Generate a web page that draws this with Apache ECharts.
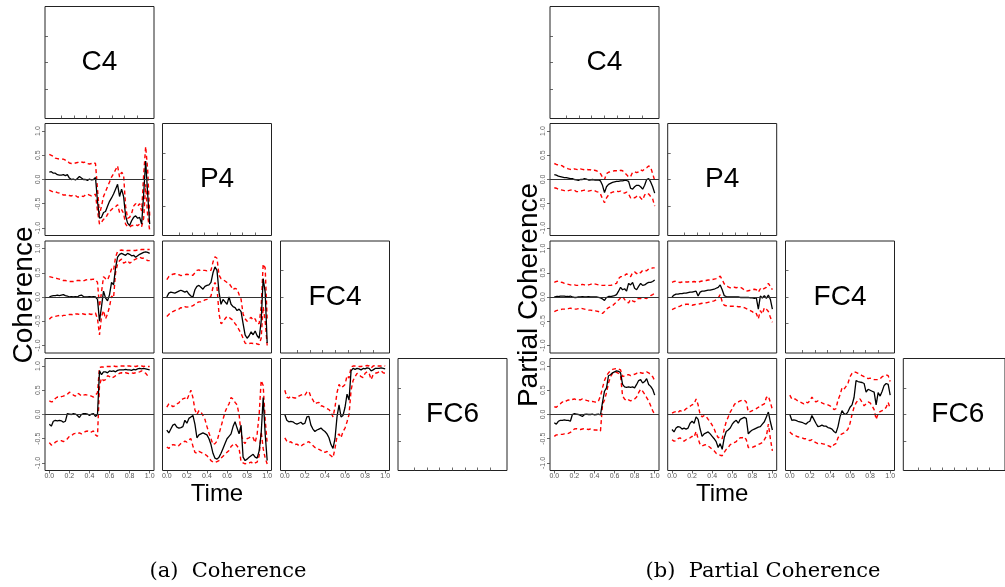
<!DOCTYPE html>
<html><head><meta charset="utf-8">
<script src="https://cdn.jsdelivr.net/npm/echarts@6/dist/echarts.min.js"></script>
<style>html,body{margin:0;padding:0;background:#fff;}#c{width:1005px;height:587px;}</style>
</head><body><div id="c"></div>
<script>
const CHANNELS = ['C4','P4','FC4','FC6'];
const TIME = [0.00,0.02,0.04,0.06,0.08,0.10,0.12,0.14,0.16,0.18,0.20,0.22,0.24,0.26,0.28,0.30,0.32,0.34,0.36,0.38,0.40,0.42,0.44,0.46,0.48,0.50,0.52,0.54,0.56,0.58,0.60,0.62,0.64,0.66,0.68,0.70,0.72,0.74,0.76,0.78,0.80,0.82,0.84,0.86,0.88,0.90,0.92,0.94,0.96,0.98,1.00];
const TIME_TICKS = [0.0,0.2,0.4,0.6,0.8,1.0];
const VALUE_TICKS = [-1.0,-0.5,0.0,0.5,1.0];
const PANEL_TITLES = ['(a)  Coherence','(b)  Partial Coherence'];
const Y_TITLES = ['Coherence','Partial Coherence'];
const X_TITLE = 'Time';

// ---- Coherence (left) ----
const cohP4C4Mean = [0.15,0.16,0.13,0.13,0.10,0.09,0.09,0.10,0.08,0.10,0.03,0.00,0.01,-0.01,0.02,0.06,0.03,0.00,0.00,-0.02,0.01,-0.01,0.00,0.04,-0.45,-0.80,-0.78,-0.68,-0.66,-0.55,-0.45,-0.38,-0.30,-0.20,-0.10,-0.35,-0.20,-0.35,-0.75,-0.90,-0.95,-0.85,-0.78,-0.75,-0.80,-0.78,-0.92,-0.30,0.38,-0.30,-0.92];
const cohP4C4Up = [0.52,0.50,0.48,0.44,0.43,0.42,0.42,0.42,0.40,0.38,0.34,0.33,0.33,0.34,0.35,0.37,0.36,0.35,0.36,0.33,0.32,0.33,0.35,0.33,-0.20,-0.72,-0.55,-0.35,-0.25,-0.15,-0.05,0.05,0.12,0.20,0.28,0.05,0.15,0.10,-0.55,-0.80,-0.78,-0.70,-0.55,-0.50,-0.55,-0.50,-0.65,0.10,0.68,0.20,-0.75];
const cohP4C4Lo = [-0.22,-0.24,-0.26,-0.25,-0.27,-0.28,-0.30,-0.32,-0.32,-0.31,-0.33,-0.34,-0.32,-0.33,-0.36,-0.36,-0.34,-0.35,-0.32,-0.30,-0.32,-0.34,-0.33,-0.30,-0.65,-0.92,-0.88,-0.82,-0.80,-0.72,-0.66,-0.62,-0.58,-0.56,-0.52,-0.68,-0.62,-0.70,-0.92,-0.97,-0.98,-0.95,-0.95,-0.93,-0.95,-0.92,-0.97,-0.80,-0.10,-0.75,-1.05];

const cohFC4C4Mean = [0.00,0.02,0.03,0.03,0.04,0.03,0.04,0.05,0.03,0.02,0.00,0.01,0.00,0.01,0.00,0.03,0.04,0.01,0.00,0.00,0.01,0.00,0.01,0.00,-0.05,-0.50,-0.20,0.12,-0.02,-0.08,0.05,0.30,0.25,0.60,0.82,0.88,0.90,0.88,0.86,0.90,0.88,0.85,0.86,0.82,0.85,0.88,0.90,0.92,0.93,0.92,0.90];
const cohFC4C4Up = [0.42,0.41,0.40,0.39,0.38,0.37,0.36,0.34,0.34,0.33,0.32,0.32,0.32,0.33,0.34,0.34,0.33,0.33,0.35,0.36,0.36,0.36,0.37,0.36,0.30,-0.20,0.10,0.42,0.38,0.35,0.45,0.58,0.55,0.82,0.94,0.96,0.97,0.96,0.95,0.96,0.96,0.96,0.96,0.96,0.97,0.97,0.98,0.98,0.98,0.98,0.98];
const cohFC4C4Lo = [-0.46,-0.42,-0.40,-0.40,-0.39,-0.38,-0.40,-0.38,-0.38,-0.37,-0.36,-0.36,-0.37,-0.35,-0.35,-0.36,-0.34,-0.35,-0.36,-0.34,-0.35,-0.36,-0.34,-0.33,-0.45,-0.78,-0.40,-0.28,-0.45,-0.35,-0.20,0.02,-0.02,0.50,0.68,0.75,0.78,0.70,0.72,0.75,0.70,0.72,0.76,0.78,0.80,0.82,0.80,0.80,0.78,0.75,0.75];

const cohFC6C4Mean = [-0.20,-0.24,-0.14,-0.12,-0.13,-0.12,-0.13,-0.16,-0.14,0.02,0.01,0.00,0.02,0.01,-0.02,-0.06,0.00,0.02,0.02,0.01,-0.02,0.01,0.02,-0.04,0.00,0.90,0.82,0.88,0.88,0.86,0.90,0.89,0.90,0.88,0.91,0.92,0.92,0.92,0.93,0.92,0.92,0.91,0.93,0.92,0.94,0.95,0.94,0.95,0.94,0.93,0.92];
const cohFC6C4Up = [0.28,0.26,0.27,0.33,0.36,0.35,0.37,0.38,0.40,0.42,0.46,0.44,0.40,0.38,0.44,0.42,0.38,0.40,0.41,0.40,0.39,0.38,0.36,0.40,0.45,0.97,0.98,0.98,0.99,0.99,0.99,0.99,1.00,0.99,0.99,1.00,1.00,1.00,0.99,1.00,1.00,0.99,1.00,0.99,1.00,1.00,1.00,0.99,1.00,0.99,0.99];
const cohFC6C4Lo = [-0.58,-0.63,-0.62,-0.57,-0.55,-0.55,-0.54,-0.56,-0.54,-0.50,-0.45,-0.44,-0.40,-0.39,-0.40,-0.38,-0.40,-0.38,-0.35,-0.34,-0.37,-0.36,-0.34,-0.42,-0.45,0.60,0.75,0.70,0.72,0.80,0.78,0.75,0.77,0.80,0.82,0.85,0.86,0.85,0.86,0.85,0.84,0.86,0.85,0.86,0.87,0.88,0.90,0.88,0.85,0.80,0.78];

const cohFC4P4Mean = [0.00,0.08,0.10,0.09,0.08,0.10,0.12,0.14,0.12,0.10,0.12,0.06,0.02,0.00,0.15,0.22,0.24,0.20,0.16,0.22,0.24,0.25,0.30,0.50,0.62,0.55,0.10,-0.15,-0.05,-0.10,-0.15,0.00,-0.15,-0.20,-0.22,-0.28,-0.25,-0.30,-0.55,-0.78,-0.85,-0.80,-0.72,-0.78,-0.70,-0.80,-0.85,-0.50,0.38,0.10,-0.95];
const cohFC4P4Up = [0.36,0.42,0.45,0.47,0.48,0.46,0.46,0.44,0.45,0.46,0.47,0.46,0.45,0.45,0.50,0.55,0.56,0.54,0.55,0.55,0.54,0.55,0.55,0.72,0.83,0.80,0.45,0.38,0.36,0.33,0.30,0.28,0.22,0.15,0.18,0.16,0.05,-0.05,-0.35,-0.45,-0.50,-0.45,-0.42,-0.48,-0.45,-0.55,-0.55,-0.20,0.68,0.60,-0.48];
const cohFC4P4Lo = [-0.40,-0.36,-0.32,-0.30,-0.28,-0.26,-0.25,-0.22,-0.23,-0.20,-0.21,-0.20,-0.20,-0.18,-0.15,-0.12,-0.10,-0.10,-0.08,-0.06,-0.05,-0.03,0.02,0.20,0.30,0.20,-0.35,-0.55,-0.52,-0.45,-0.40,-0.42,-0.45,-0.48,-0.55,-0.60,-0.68,-0.75,-0.85,-0.95,-0.97,-0.96,-0.95,-0.96,-0.95,-0.97,-0.98,-0.85,-0.20,-0.50,-1.00];

const cohFC6P4Mean = [-0.32,-0.38,-0.30,-0.22,-0.20,-0.26,-0.28,-0.27,-0.25,-0.12,-0.18,-0.08,-0.05,-0.02,-0.20,-0.48,-0.42,-0.40,-0.38,-0.40,-0.42,-0.50,-0.62,-0.80,-0.90,-0.92,-0.88,-0.80,-0.70,-0.60,-0.50,-0.45,-0.40,-0.25,-0.15,-0.28,-0.40,-0.22,-0.88,-0.95,-0.92,-0.88,-0.85,-0.82,-0.88,-0.90,-0.75,-0.40,0.35,-0.40,-0.95];
const cohFC6P4Up = [0.15,0.22,0.20,0.16,0.18,0.22,0.24,0.30,0.32,0.34,0.30,0.40,0.50,0.35,0.10,0.00,0.08,0.05,-0.02,-0.10,-0.25,-0.38,-0.50,-0.62,-0.60,-0.55,-0.40,-0.25,-0.10,0.05,0.15,0.22,0.35,0.32,0.25,0.20,0.00,-0.40,-0.55,-0.60,-0.50,-0.48,-0.45,-0.48,-0.58,-0.40,0.00,0.70,0.60,-0.10,-0.60];
const cohFC6P4Lo = [-0.67,-0.70,-0.65,-0.62,-0.63,-0.66,-0.64,-0.60,-0.58,-0.55,-0.57,-0.52,-0.50,-0.65,-0.78,-0.80,-0.76,-0.78,-0.80,-0.82,-0.85,-0.90,-0.95,-0.98,-0.99,-0.97,-0.95,-0.90,-0.86,-0.82,-0.78,-0.74,-0.66,-0.62,-0.60,-0.65,-0.70,-0.98,-1.00,-1.02,-1.00,-1.00,-0.98,-1.02,-1.00,-0.98,-0.85,-0.35,-0.70,-0.90,-1.02];

const cohFC6FC4Mean = [0.00,-0.12,-0.15,-0.14,-0.15,-0.18,-0.20,-0.18,-0.16,-0.20,-0.18,-0.05,-0.04,-0.22,-0.30,-0.35,-0.32,-0.30,-0.28,-0.32,-0.35,-0.40,-0.48,-0.62,-0.70,-0.50,-0.05,0.20,-0.05,-0.02,0.15,0.42,0.30,0.90,0.95,0.93,0.95,0.94,0.92,0.95,0.94,0.96,0.95,0.90,0.92,0.95,0.95,0.95,0.96,0.95,0.94];
const cohFC6FC4Up = [0.50,0.36,0.34,0.38,0.35,0.34,0.34,0.38,0.40,0.42,0.40,0.46,0.48,0.36,0.30,0.22,0.24,0.25,0.18,0.17,0.14,0.12,0.10,0.05,-0.05,0.15,0.45,0.62,0.55,0.58,0.62,0.80,0.75,0.98,1.00,1.00,1.00,0.99,0.99,1.00,1.00,1.01,1.00,0.96,1.00,1.01,1.00,1.00,1.00,1.01,1.00];
const cohFC6FC4Lo = [-0.48,-0.55,-0.58,-0.56,-0.60,-0.62,-0.61,-0.64,-0.66,-0.62,-0.60,-0.58,-0.56,-0.60,-0.64,-0.68,-0.70,-0.72,-0.74,-0.78,-0.78,-0.76,-0.82,-0.85,-0.89,-0.70,-0.45,-0.40,-0.48,-0.35,-0.28,-0.15,0.00,0.50,0.70,0.78,0.85,0.82,0.78,0.76,0.85,0.88,0.85,0.72,0.82,0.85,0.86,0.88,0.90,0.86,0.85];

// ---- Partial coherence (right) ----
const pcohP4C4Mean = [0.10,0.09,0.07,0.06,0.05,0.04,0.04,0.03,0.02,0.02,0.00,-0.01,-0.02,0.00,0.00,0.02,0.01,-0.01,-0.01,0.00,-0.01,-0.01,-0.01,-0.03,-0.12,-0.27,-0.15,-0.10,-0.08,-0.06,-0.05,-0.04,-0.04,-0.03,-0.03,-0.02,-0.02,-0.04,-0.18,-0.20,-0.15,-0.12,-0.12,-0.15,-0.20,-0.12,0.00,0.02,-0.05,-0.15,-0.28];
const pcohP4C4Up = [0.33,0.31,0.30,0.30,0.28,0.25,0.24,0.22,0.21,0.20,0.22,0.21,0.20,0.22,0.21,0.20,0.21,0.20,0.20,0.18,0.19,0.18,0.16,0.12,0.05,0.00,0.12,0.15,0.16,0.17,0.18,0.18,0.17,0.19,0.18,0.14,0.10,0.05,0.06,0.15,0.16,0.14,0.16,0.20,0.18,0.22,0.24,0.28,0.25,0.12,-0.02];
const pcohP4C4Lo = [-0.17,-0.18,-0.20,-0.21,-0.22,-0.23,-0.24,-0.23,-0.22,-0.21,-0.22,-0.25,-0.25,-0.24,-0.23,-0.22,-0.23,-0.24,-0.23,-0.22,-0.23,-0.25,-0.26,-0.30,-0.40,-0.48,-0.38,-0.32,-0.28,-0.26,-0.25,-0.24,-0.25,-0.24,-0.27,-0.28,-0.26,-0.30,-0.38,-0.36,-0.38,-0.35,-0.33,-0.38,-0.42,-0.32,-0.28,-0.30,-0.35,-0.40,-0.55];

const pcohFC4C4Mean = [0.00,0.01,0.01,0.02,0.02,0.02,0.01,0.01,0.02,0.00,-0.01,-0.01,0.00,0.00,0.01,0.00,0.00,0.01,0.00,0.00,0.00,0.00,-0.01,-0.02,-0.04,-0.07,-0.01,0.01,0.01,0.02,0.03,0.05,0.12,0.20,0.15,0.17,0.12,0.28,0.25,0.30,0.18,0.15,0.22,0.28,0.24,0.25,0.28,0.30,0.30,0.32,0.35];
const pcohFC4C4Up = [0.30,0.32,0.33,0.31,0.30,0.28,0.27,0.26,0.25,0.24,0.25,0.24,0.24,0.25,0.26,0.25,0.24,0.25,0.26,0.28,0.27,0.26,0.25,0.24,0.24,0.24,0.25,0.24,0.24,0.25,0.27,0.28,0.38,0.42,0.42,0.44,0.48,0.45,0.42,0.50,0.52,0.48,0.52,0.50,0.55,0.55,0.54,0.58,0.58,0.60,0.60];
const pcohFC4C4Lo = [-0.30,-0.28,-0.27,-0.26,-0.25,-0.25,-0.24,-0.24,-0.23,-0.24,-0.25,-0.25,-0.24,-0.23,-0.24,-0.25,-0.26,-0.27,-0.27,-0.28,-0.28,-0.29,-0.30,-0.32,-0.34,-0.30,-0.25,-0.22,-0.20,-0.18,-0.14,-0.10,-0.06,-0.02,0.01,-0.05,-0.10,-0.12,-0.05,-0.08,-0.10,-0.05,-0.03,-0.03,-0.02,-0.02,-0.03,0.00,0.03,0.05,0.08];

const pcohFC6C4Mean = [-0.17,-0.20,-0.14,-0.12,-0.12,-0.11,-0.12,-0.12,-0.14,0.00,0.02,0.01,0.00,-0.02,-0.04,0.00,0.01,0.00,0.00,0.01,-0.01,0.00,0.01,-0.01,0.25,0.48,0.55,0.80,0.82,0.86,0.88,0.90,0.89,0.86,0.62,0.57,0.56,0.57,0.56,0.57,0.55,0.62,0.70,0.72,0.65,0.68,0.74,0.62,0.58,0.52,0.40];
const pcohFC6C4Up = [0.16,0.15,0.19,0.22,0.26,0.25,0.28,0.30,0.29,0.31,0.32,0.30,0.31,0.30,0.32,0.31,0.29,0.28,0.26,0.27,0.26,0.25,0.28,0.38,0.55,0.70,0.80,0.86,0.90,0.93,0.94,0.95,0.94,0.92,0.78,0.80,0.82,0.82,0.80,0.82,0.83,0.85,0.88,0.86,0.85,0.86,0.88,0.86,0.82,0.78,0.70];
const pcohFC6C4Lo = [-0.45,-0.42,-0.42,-0.41,-0.41,-0.40,-0.40,-0.39,-0.37,-0.33,-0.30,-0.29,-0.30,-0.31,-0.30,-0.29,-0.30,-0.31,-0.30,-0.30,-0.32,-0.32,-0.33,-0.34,0.20,0.30,0.45,0.65,0.78,0.85,0.88,0.87,0.85,0.80,0.38,0.32,0.28,0.30,0.28,0.30,0.32,0.36,0.45,0.52,0.48,0.42,0.35,0.28,0.18,0.08,0.00];

const pcohFC4P4Mean = [0.00,0.04,0.06,0.06,0.07,0.07,0.08,0.08,0.09,0.10,0.10,0.11,0.12,0.02,0.10,0.12,0.12,0.13,0.14,0.14,0.15,0.16,0.18,0.20,0.25,0.15,0.03,0.01,0.00,0.00,0.00,0.00,0.00,0.00,-0.01,-0.01,-0.01,-0.01,-0.01,-0.02,-0.02,-0.03,-0.02,-0.25,0.02,-0.02,0.03,-0.03,0.04,-0.05,-0.25];
const pcohFC4P4Up = [0.30,0.32,0.33,0.31,0.30,0.31,0.32,0.31,0.31,0.32,0.31,0.32,0.31,0.30,0.32,0.33,0.34,0.34,0.35,0.35,0.36,0.37,0.38,0.40,0.43,0.36,0.27,0.24,0.21,0.19,0.20,0.20,0.19,0.20,0.20,0.18,0.14,0.12,0.13,0.14,0.15,0.16,0.15,0.10,0.17,0.14,0.18,0.20,0.28,0.22,0.15];
const pcohFC4P4Lo = [-0.26,-0.24,-0.22,-0.20,-0.19,-0.17,-0.16,-0.15,-0.15,-0.16,-0.17,-0.16,-0.15,-0.15,-0.14,-0.13,-0.12,-0.12,-0.11,-0.10,-0.09,-0.08,-0.06,-0.02,0.05,-0.10,-0.17,-0.18,-0.19,-0.19,-0.19,-0.19,-0.19,-0.20,-0.20,-0.21,-0.22,-0.24,-0.26,-0.28,-0.30,-0.35,-0.34,-0.45,-0.28,-0.35,-0.22,-0.25,-0.30,-0.42,-0.52];

const pcohFC6P4Mean = [-0.31,-0.36,-0.28,-0.25,-0.26,-0.30,-0.28,-0.30,-0.28,-0.18,-0.14,-0.18,-0.05,-0.10,-0.30,-0.45,-0.40,-0.38,-0.36,-0.40,-0.45,-0.50,-0.56,-0.68,-0.60,-0.72,-0.48,-0.35,-0.32,-0.28,-0.20,-0.15,-0.12,-0.18,-0.10,-0.08,-0.06,-0.08,-0.40,-0.35,-0.32,-0.30,-0.28,-0.26,-0.25,-0.20,-0.15,-0.05,0.05,-0.15,-0.32];
const pcohFC6P4Up = [0.03,0.05,0.06,0.04,0.08,0.06,0.08,0.12,0.14,0.17,0.20,0.22,0.32,0.20,0.00,-0.05,-0.02,-0.04,-0.10,-0.15,-0.22,-0.30,-0.40,-0.48,-0.46,-0.50,-0.30,-0.15,-0.05,0.05,0.12,0.20,0.25,0.26,0.28,0.30,0.30,0.26,0.05,0.06,0.08,0.10,0.12,0.15,0.16,0.20,0.22,0.35,0.38,0.25,0.10];
const pcohFC6P4Lo = [-0.52,-0.55,-0.54,-0.50,-0.48,-0.52,-0.55,-0.52,-0.50,-0.48,-0.45,-0.47,-0.35,-0.50,-0.62,-0.65,-0.63,-0.62,-0.65,-0.68,-0.72,-0.75,-0.80,-0.82,-0.84,-0.85,-0.78,-0.72,-0.68,-0.62,-0.60,-0.58,-0.56,-0.50,-0.48,-0.48,-0.46,-0.52,-0.68,-0.68,-0.68,-0.66,-0.64,-0.62,-0.60,-0.58,-0.52,-0.45,-0.20,-0.50,-0.75];

const pcohFC6FC4Mean = [0.00,-0.12,-0.11,-0.12,-0.14,-0.15,-0.16,-0.18,-0.20,-0.16,-0.14,-0.02,-0.10,-0.18,-0.25,-0.24,-0.22,-0.24,-0.24,-0.27,-0.28,-0.30,-0.35,-0.38,-0.25,-0.05,0.08,0.02,0.00,0.06,0.15,0.20,0.35,0.70,0.68,0.67,0.66,0.64,0.46,0.52,0.50,0.48,0.46,0.20,0.45,0.38,0.48,0.60,0.64,0.62,0.40];
const pcohFC6FC4Up = [0.40,0.32,0.33,0.31,0.28,0.26,0.24,0.22,0.26,0.24,0.28,0.36,0.30,0.26,0.28,0.27,0.24,0.22,0.22,0.20,0.18,0.15,0.10,0.12,0.30,0.40,0.55,0.52,0.58,0.65,0.78,0.85,0.88,0.87,0.85,0.83,0.80,0.78,0.76,0.74,0.75,0.74,0.72,0.72,0.72,0.74,0.78,0.80,0.82,0.80,0.68];
const pcohFC6FC4Lo = [-0.36,-0.40,-0.43,-0.44,-0.46,-0.47,-0.48,-0.50,-0.50,-0.52,-0.54,-0.52,-0.56,-0.58,-0.60,-0.59,-0.60,-0.61,-0.62,-0.64,-0.66,-0.68,-0.62,-0.60,-0.48,-0.42,-0.40,-0.38,-0.35,-0.30,-0.18,0.00,0.15,0.24,0.30,0.32,0.25,0.18,0.22,0.26,0.24,0.18,0.10,-0.10,0.02,0.06,0.08,0.10,0.15,0.25,0.12];

const PANELS = [
  {side:0,r:1,c:0,mean:cohP4C4Mean,up:cohP4C4Up,lo:cohP4C4Lo},
  {side:0,r:2,c:0,mean:cohFC4C4Mean,up:cohFC4C4Up,lo:cohFC4C4Lo},
  {side:0,r:3,c:0,mean:cohFC6C4Mean,up:cohFC6C4Up,lo:cohFC6C4Lo},
  {side:0,r:2,c:1,mean:cohFC4P4Mean,up:cohFC4P4Up,lo:cohFC4P4Lo},
  {side:0,r:3,c:1,mean:cohFC6P4Mean,up:cohFC6P4Up,lo:cohFC6P4Lo},
  {side:0,r:3,c:2,mean:cohFC6FC4Mean,up:cohFC6FC4Up,lo:cohFC6FC4Lo},
  {side:1,r:1,c:0,mean:pcohP4C4Mean,up:pcohP4C4Up,lo:pcohP4C4Lo},
  {side:1,r:2,c:0,mean:pcohFC4C4Mean,up:pcohFC4C4Up,lo:pcohFC4C4Lo},
  {side:1,r:3,c:0,mean:pcohFC6C4Mean,up:pcohFC6C4Up,lo:pcohFC6C4Lo},
  {side:1,r:2,c:1,mean:pcohFC4P4Mean,up:pcohFC4P4Up,lo:pcohFC4P4Lo},
  {side:1,r:3,c:1,mean:pcohFC6P4Mean,up:pcohFC6P4Up,lo:pcohFC6P4Lo},
  {side:1,r:3,c:2,mean:pcohFC6FC4Mean,up:pcohFC6FC4Up,lo:pcohFC6FC4Lo}
];

// ---- layout ----
const COL_LEFT = [[45,162.5,280.5,398],[550,667.7,785.5,903.3]];
const ROW_TOP = [6.5,123.5,241,358.5];
const BW = 109, BH = 112;
const XMIN = -0.043, XMAX = 1.043, YMIN = -1.155, YMAX = 1.155;
const FONT = 'Liberation Sans, Arial, sans-serif';

const option = {animation:false, backgroundColor:'#fff', grid:[], xAxis:[], yAxis:[], series:[], graphic:[]};

function addGrid(side, r, c, diag) {
  const gi = option.grid.length;
  option.grid.push({left:COL_LEFT[side][c], top:ROW_TOP[r], width:BW, height:BH, show:true,
    borderColor:'#222', borderWidth:1, backgroundColor:'transparent', containLabel:false});
  const showX = !diag && r === 3;
  const showY = !diag && c === 0;
  option.xAxis.push({type:'value', gridIndex:gi, min:XMIN, max:XMAX, position:'bottom',
    axisLine:{show:false, onZero:false}, splitLine:{show:false},
    axisTick:{show: showX || diag, inside: diag, length:3,
      customValues: diag ? [0.12,0.25,0.37,0.5,0.63,0.75,0.88] : TIME_TICKS, lineStyle:{color:'#444', width:0.8}},
    axisLabel:{show: showX, customValues: TIME_TICKS, fontSize:7, color:'#555', fontFamily:FONT, margin:2,
      formatter: v => v.toFixed(1)}});
  option.yAxis.push({type:'value', gridIndex:gi, min:YMIN, max:YMAX, position:'left',
    axisLine:{show:false, onZero:false}, splitLine:{show:false},
    axisTick:{show: showY || diag, inside: diag, length:3,
      customValues: diag ? [-0.55,0,0.55] : VALUE_TICKS, lineStyle:{color:'#444', width:0.8}},
    axisLabel:{show: showY, customValues: VALUE_TICKS, rotate:90, fontSize:7, color:'#666', fontFamily:FONT, margin:3,
      formatter: v => v.toFixed(1)}});
  return gi;
}

// diagonal boxes
for (let side = 0; side < 2; side++) {
  for (let k = 0; k < 4; k++) {
    addGrid(side, k, k, true);
    option.graphic.push({type:'text', x: COL_LEFT[side][k] + BW/2, y: ROW_TOP[k] + BH/2,
      style:{text: CHANNELS[k], font: '28px ' + FONT, fill:'#000', textAlign:'center', textVerticalAlign:'middle'}});
  }
}

function toPairs(arr) { return TIME.map((t, i) => [t, arr[i]]); }

PANELS.forEach(p => {
  const gi = addGrid(p.side, p.r, p.c, false);
  const dashed = {color:'#ff0000', width:1.4, type:[4,3]};
  option.series.push({type:'line', xAxisIndex:gi, yAxisIndex:gi, data: toPairs(p.up), showSymbol:false, lineStyle:dashed, z:2});
  option.series.push({type:'line', xAxisIndex:gi, yAxisIndex:gi, data: toPairs(p.lo), showSymbol:false, lineStyle:dashed, z:2});
  option.series.push({type:'line', xAxisIndex:gi, yAxisIndex:gi, data: toPairs(p.mean), showSymbol:false,
    lineStyle:{color:'#000', width:1.3}, z:3,
    markLine:{silent:true, symbol:'none', label:{show:false}, data:[{yAxis:0}],
      lineStyle:{color:'#333', width:1, type:'solid'}}});
});

// titles
const captionX = [228, 763];
for (let side = 0; side < 2; side++) {
  const midY = ROW_TOP[1] + (ROW_TOP[3] + BH - ROW_TOP[1]) / 2;
  option.graphic.push({type:'text', x: COL_LEFT[side][0] - 21, y: midY - 2, rotation: Math.PI/2,
    style:{text: Y_TITLES[side], font:'28px ' + FONT, fill:'#000', textAlign:'center', textVerticalAlign:'middle'}});
  option.graphic.push({type:'text', x: COL_LEFT[side][1] + BW/2, y: 494,
    style:{text: X_TITLE, font:'24px ' + FONT, fill:'#000', textAlign:'center', textVerticalAlign:'middle'}});
  option.graphic.push({type:'text', x: captionX[side], y: 572,
    style:{text: PANEL_TITLES[side], font:'21px DejaVu Serif, serif', fill:'#000', textAlign:'center', textVerticalAlign:'middle'}});
}

const chart = echarts.init(document.getElementById('c'), null, {renderer:'canvas'});
chart.setOption(option);
</script>
</body></html>
